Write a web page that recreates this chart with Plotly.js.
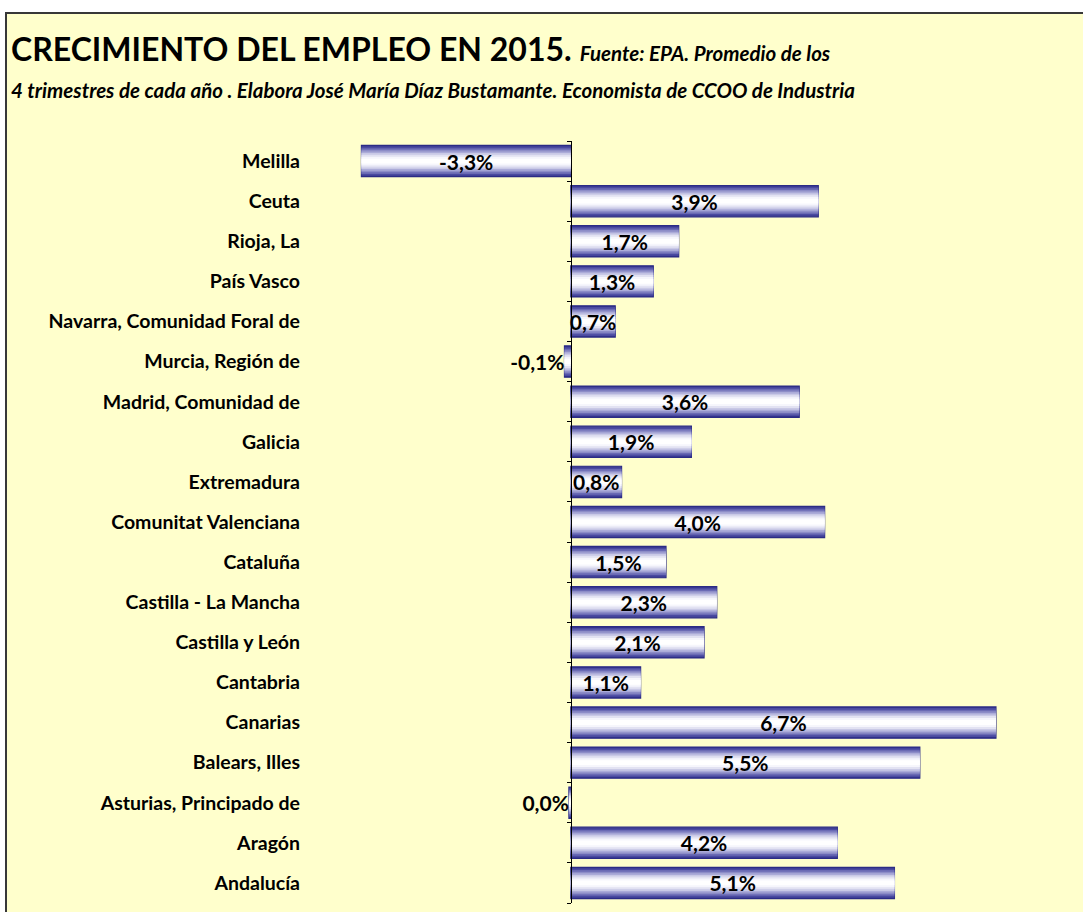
<!DOCTYPE html>
<html>
<head>
<meta charset="utf-8">
<script src="https://cdn.plot.ly/plotly-3.0.1.min.js"></script>
<style>
  html, body { margin: 0; padding: 0; background: #ffffff; }
  #frame { position: absolute; left: 5px; top: 12px; width: 1100px; height: 920px;
           border-left: 2px solid #383838; border-top: 2px solid #383838; background: #FFFFCC; }
  #plot { position: absolute; left: 0; top: 0; width: 1083px; height: 912px; }
</style>
</head>
<body>
<div id="frame"></div>
<div id="plot"></div>
<script>
// Data (Excel order: first category at the bottom)
const regions = [
  "Andalucía", "Aragón", "Asturias, Principado de", "Balears, Illes", "Canarias",
  "Cantabria", "Castilla y León", "Castilla - La Mancha", "Cataluña", "Comunitat Valenciana",
  "Extremadura", "Galicia", "Madrid, Comunidad de", "Murcia, Región de",
  "Navarra, Comunidad Foral de", "País Vasco", "Rioja, La", "Ceuta", "Melilla"
];
const growth = [5.1, 4.2, -0.03, 5.5, 6.7, 1.1, 2.1, 2.3, 1.5, 4.0, 0.8, 1.9, 3.6, -0.1, 0.7, 1.3, 1.7, 3.9, -3.3];
const titleMain = "CRECIMIENTO DEL EMPLEO EN 2015.";
const titleSource = "Fuente: EPA. Promedio de los";
const titleLine2 = "4 trimestres de cada año . Elabora José María Díaz Bustamante. Economista de CCOO de Industria";

const FONT = "Lato, 'Open Sans', sans-serif";
const fmt = v => { let r = Math.round(v * 10) / 10; if (r === 0) r = 0; return r.toFixed(1).replace('.', ',') + '%'; };
const labels = growth.map(fmt);
const positions = growth.map(v => Math.abs(v) < 0.5 ? 'outside' : 'inside');

// Stepped gradient layers (outer dark -> inner white)
const layers = [
  {w: 0.78, c: '#34348f'},
  {w: 0.72, c: '#4a4aa0'},
  {w: 0.64, c: '#6a6ab4'},
  {w: 0.56, c: '#8c8cc7'},
  {w: 0.48, c: '#ababd8'},
  {w: 0.40, c: '#c9c9e6'},
  {w: 0.32, c: '#e2e2f2'},
  {w: 0.22, c: '#f6f6fc'},
  {w: 0.12, c: '#ffffff'}
];

const LBL = { family: FONT, size: 21, color: '#000000', weight: 'bold' };
const traces = layers.map((L, i) => {
  const t = {
    type: 'bar', orientation: 'h', x: growth, y: regions,
    width: L.w, hoverinfo: 'skip', showlegend: false,
    marker: { color: L.c, line: { width: i === 0 ? 1.2 : 0, color: '#2b2b85' } }
  };
  if (i === layers.length - 1) {
    t.text = labels;
    t.textposition = positions;
    t.textangle = 0;
    t.constraintext = 'none';
    t.cliponaxis = false;
    t.insidetextanchor = 'middle';
    t.textfont = LBL;
    t.insidetextfont = LBL;
    t.outsidetextfont = LBL;
  }
  return t;
});

// axis at zero with ticks between categories
traces.push({
  type: 'scatter', mode: 'markers', x: regions.map(() => 0), y: regions, yaxis: 'y2',
  marker: { opacity: 0, size: 1 }, hoverinfo: 'skip', showlegend: false
});

const xmin = -4, xmax = 7;
const layout = {
  width: 1083, height: 912,
  paper_bgcolor: 'rgba(0,0,0,0)', plot_bgcolor: 'rgba(0,0,0,0)',
  margin: { l: 317, r: 68, t: 141, b: 9 },
  barmode: 'overlay',
  font: { family: FONT, color: '#000000' },
  xaxis: { range: [xmin, xmax], showgrid: false, zeroline: false, showticklabels: false, showline: false, ticks: '', fixedrange: true },
  yaxis: {
    type: 'category', range: [-0.5, regions.length - 0.5], autorange: false,
    showgrid: false, zeroline: false, showline: false, ticks: '',
    ticklabelstandoff: 16, tickfont: { family: FONT, size: 19.5, color: '#000000', weight: 'bold' },
    fixedrange: true
  },
  yaxis2: {
    type: 'category', overlaying: 'y', matches: 'y', anchor: 'free', side: 'left',
    position: (0 - xmin) / (xmax - xmin),
    showline: true, linecolor: '#000000', linewidth: 1,
    ticks: 'outside', ticklen: 4, tickcolor: '#000000', tickson: 'boundaries',
    showticklabels: false, showgrid: false, zeroline: false, fixedrange: true
  },
  annotations: [
    {
      xref: 'paper', yref: 'paper', x: (9 - 317) / 698, y: (903 - 49) / 762,
      xanchor: 'left', yanchor: 'middle', showarrow: false, align: 'left',
      text: '<b>' + titleMain + '</b> <span style="font-size:20.5px"><b><i>' + titleSource + '</i></b></span>',
      font: { family: FONT, size: 32, color: '#000000' }
    },
    {
      xref: 'paper', yref: 'paper', x: (9 - 317) / 698, y: (903 - 90) / 762,
      xanchor: 'left', yanchor: 'middle', showarrow: false, align: 'left',
      text: '<b><i>' + titleLine2 + '</i></b>',
      font: { family: FONT, size: 20.5, color: '#000000' }
    }
  ]
};

Plotly.newPlot('plot', traces, layout, { displayModeBar: false, staticPlot: true });
</script>
</body>
</html>
